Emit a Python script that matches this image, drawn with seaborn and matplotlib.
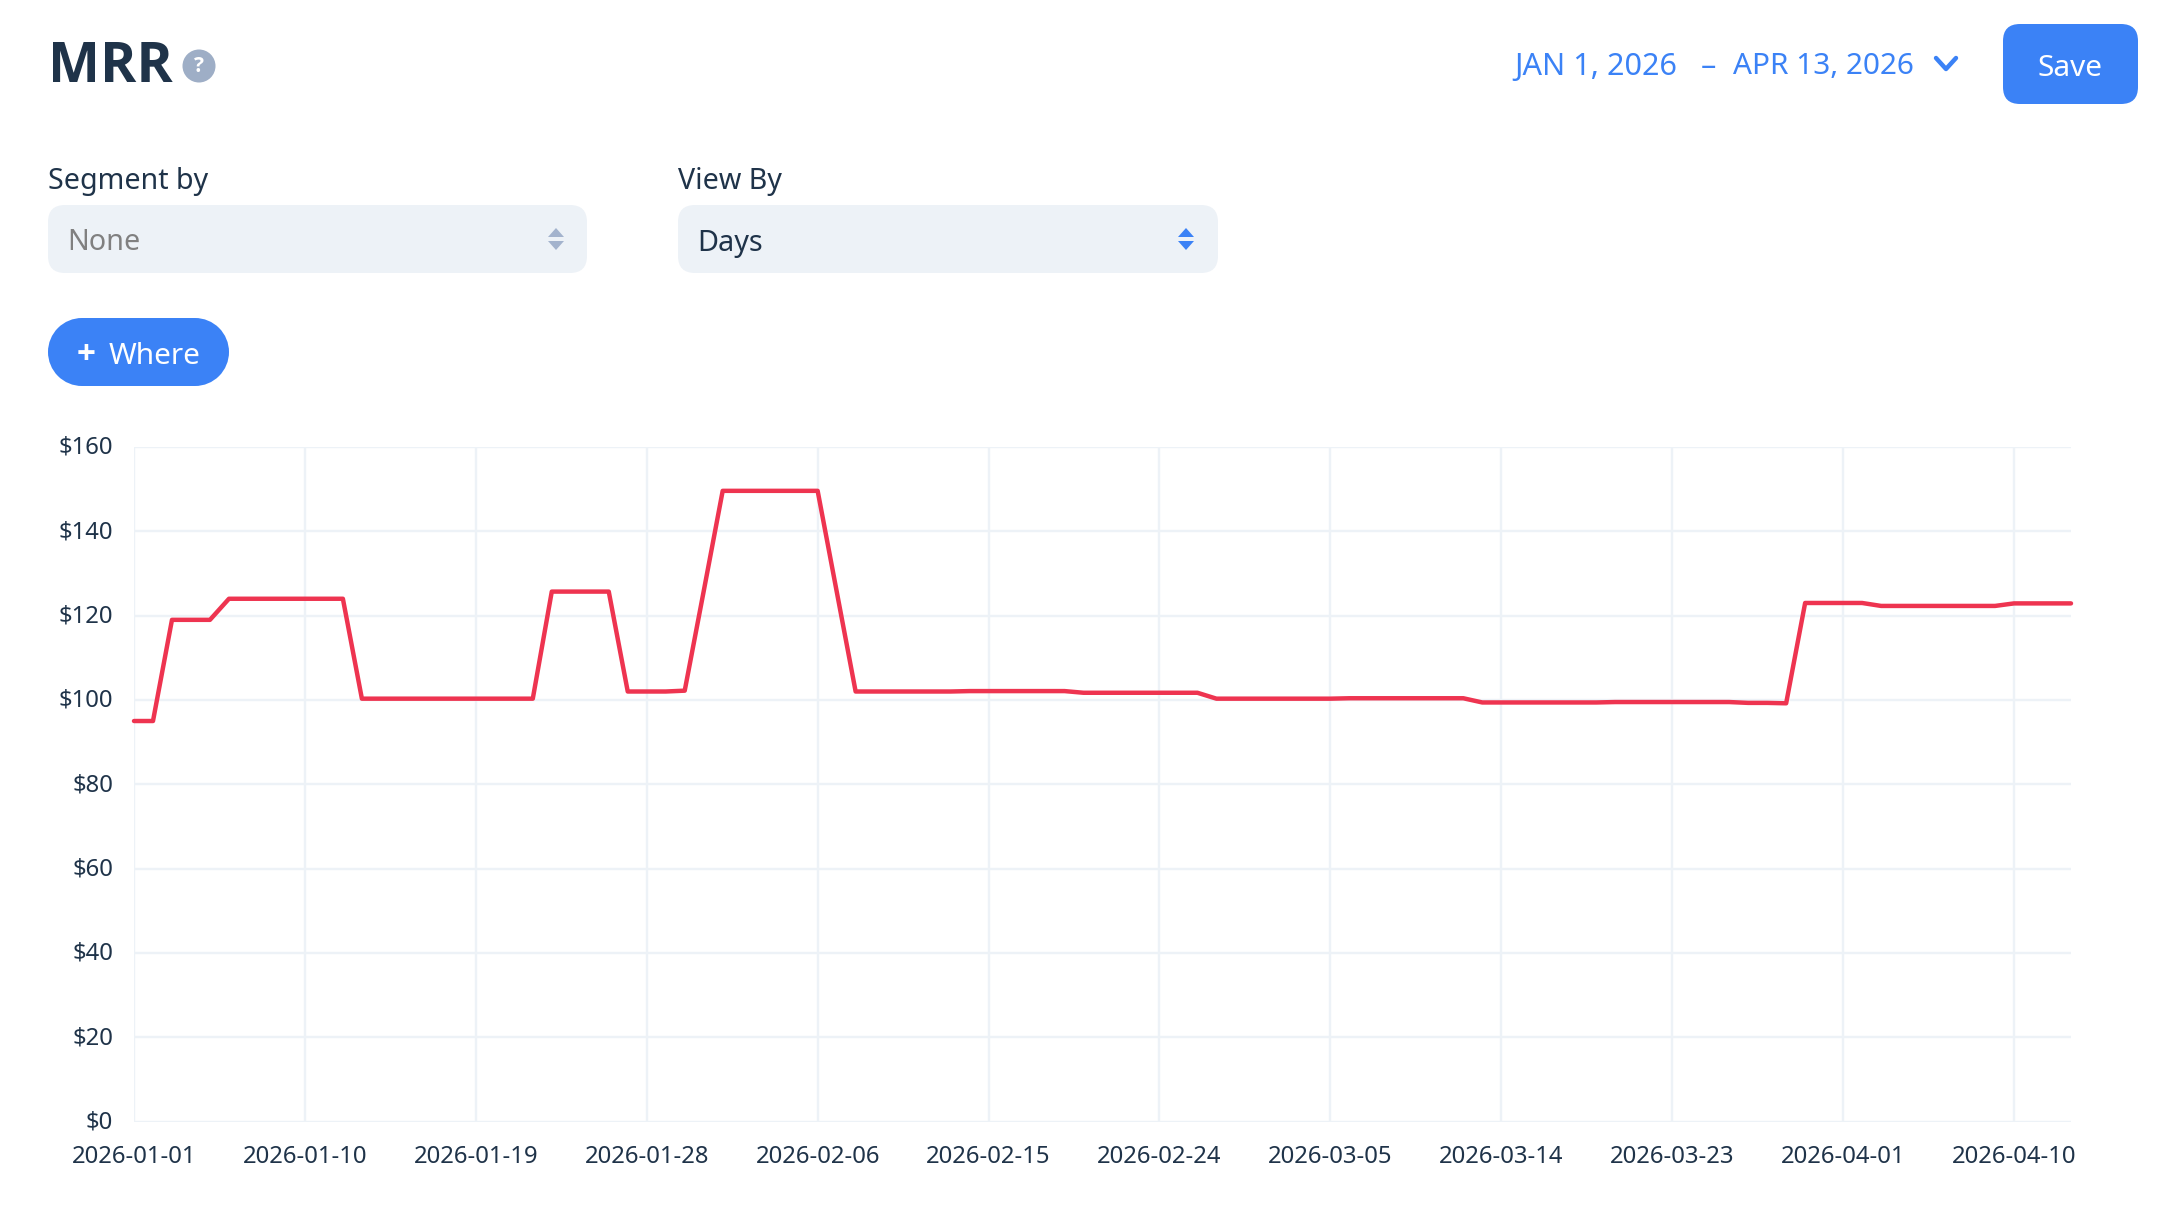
import matplotlib
matplotlib.use("Agg")
import matplotlib.pyplot as plt
from matplotlib.patches import FancyBboxPatch, Polygon, Circle, Rectangle
from matplotlib.lines import Line2D
from matplotlib.transforms import ScaledTranslation
import numpy as np
import pandas as pd
import seaborn as sns

# Daily MRR values, one entry per day from the start date
start_date = "2026-01-01"
mrr_values = [
    95, 95, 119, 119, 119, 124, 124, 124, 124, 124, 124, 124,
    100.3, 100.3, 100.3, 100.3, 100.3, 100.3, 100.3, 100.3, 100.3, 100.3,
    125.7, 125.7, 125.7, 125.7,
    102, 102, 102, 102.2, 125.8,
    149.6, 149.6, 149.6, 149.6, 149.6, 149.6, 125.8,
    102, 102, 102, 102, 102, 102, 102.1, 102.1, 102.1, 102.1, 102.1, 102.1,
    101.7, 101.7, 101.7, 101.7, 101.7, 101.7, 101.7,
    100.3, 100.3, 100.3, 100.3, 100.3, 100.3, 100.3,
    100.4, 100.4, 100.4, 100.4, 100.4, 100.4, 100.4,
    99.4, 99.4, 99.4, 99.4, 99.4, 99.4, 99.4,
    99.5, 99.5, 99.5, 99.5, 99.5, 99.5, 99.5,
    99.3, 99.3, 99.2,
    123, 123, 123, 123,
    122.3, 122.3, 122.3, 122.3, 122.3, 122.3, 122.3,
    122.9, 122.9, 122.9, 122.9,
]
y_ticks = [0, 20, 40, 60, 80, 100, 120, 140, 160]
x_tick_labels = [
    "2026-01-01", "2026-01-10", "2026-01-19", "2026-01-28", "2026-02-06",
    "2026-02-15", "2026-02-24", "2026-03-05", "2026-03-14", "2026-03-23",
    "2026-04-01", "2026-04-10",
]

W, H = 2172, 1218
INK = "#1f3349"
BLUE = "#3b82f6"
FIELD = "#edf2f7"
GRID = "#edf2f7"
LINE = "#ee3450"
BOLD = ["Open Sans", "DejaVu Sans"]

sns.set_theme(style="white")
plt.rcParams["font.family"] = ["Noto Sans", "DejaVu Sans"]

fig = plt.figure(figsize=(W / 100, H / 100), dpi=100, facecolor="white")

# Plot area
left, right, top, bottom = 134, 2071, 447, 1121.5
ax = fig.add_axes([left / W, 1 - bottom / H, (right - left) / W, (bottom - top) / H])
frame = pd.DataFrame({
    "date": pd.date_range(start_date, periods=len(mrr_values), freq="D"),
    "mrr": mrr_values,
})
sns.lineplot(data=frame, x="date", y="mrr", ax=ax, color=LINE, linewidth=3.2,
             errorbar=None, zorder=5, clip_on=False)
ax.set_xlim(frame["date"].iloc[0], frame["date"].iloc[-1])
ax.set_ylim(0, 160)
ax.set_xlabel("")
ax.set_ylabel("")
ax.set_yticks(y_ticks)
ax.set_yticklabels([f"${v}" for v in y_ticks])
ax.set_xticks(pd.to_datetime(x_tick_labels))
ax.set_xticklabels(x_tick_labels)
ax.grid(True, color=GRID, linewidth=1.7)
ax.set_axisbelow(True)
for spine in ax.spines.values():
    spine.set_visible(False)
ax.tick_params(axis="y", length=12, width=1.7, color=GRID, labelcolor=INK, labelsize=17.2, pad=3)
ax.tick_params(axis="x", length=8, width=1.7, color=GRID, labelcolor=INK, labelsize=17.2, pad=9)

# Nudge the value labels up so they sit centred on their gridlines
nudge = ScaledTranslation(0, 1.5 / 72, fig.dpi_scale_trans)
for label in ax.get_yticklabels():
    label.set_transform(label.get_transform() + nudge)

# Page controls drawn in pixel coordinates
ui = fig.add_axes([0, 0, 1, 1], zorder=10)
ui.set_xlim(0, W)
ui.set_ylim(H, 0)
ui.axis("off")
ui.patch.set_alpha(0)


def rounded(x0, y0, x1, y1, radius, color):
    ui.add_patch(FancyBboxPatch((x0, y0), x1 - x0, y1 - y0,
                                boxstyle=f"round,pad=0,rounding_size={radius}",
                                facecolor=color, edgecolor="none"))


def pill(x0, y0, x1, y1, color):
    r = (y1 - y0) / 2
    ui.add_patch(Rectangle((x0 + r, y0), x1 - x0 - 2 * r, y1 - y0, facecolor=color, edgecolor="none"))
    ui.add_patch(Circle((x0 + r, y0 + r), r, facecolor=color, edgecolor="none"))
    ui.add_patch(Circle((x1 - r, y0 + r), r, facecolor=color, edgecolor="none"))


def updown(cx, color):
    ui.add_patch(Polygon([(cx - 8, 237), (cx + 8, 237), (cx, 228)], facecolor=color, edgecolor="none"))
    ui.add_patch(Polygon([(cx - 8, 241), (cx + 8, 241), (cx, 250)], facecolor=color, edgecolor="none"))


ui.text(48, 67, "MRR", fontsize=39.6, fontweight="bold", family=BOLD, color=INK, va="center", ha="left")
ui.add_patch(Circle((199, 66), 16.5, facecolor="#9eaec6", edgecolor="none"))
ui.text(199, 66, "?", fontsize=15, fontweight="bold", family=BOLD, color="white", va="center", ha="center")

ui.text(48, 181, "Segment by", fontsize=20.6, color=INK, va="center", ha="left")
rounded(48, 205, 587, 273, 17, FIELD)
ui.text(67, 242, "None", fontsize=20.7, color="#808080", va="center", ha="left")
updown(556, "#a3b3cd")

ui.text(678, 181, "View By", fontsize=20.6, color=INK, va="center", ha="left")
rounded(678, 205, 1218, 273, 17, FIELD)
ui.text(697, 243, "Days", fontsize=20.7, color=INK, va="center", ha="left")
updown(1186, BLUE)

pill(48, 318, 229, 386, BLUE)
ui.text(86, 355, "+", fontsize=24, fontweight="bold", family=BOLD, color="white", va="center", ha="center")
ui.text(109, 356, "Where", fontsize=21.5, color="white", va="center", ha="left")

ui.text(1514, 67, "JAN 1, 2026", fontsize=22, color=BLUE, va="center", ha="left")
ui.text(1708, 67, "–", fontsize=22, color=BLUE, va="center", ha="center")
ui.text(1733, 67, "APR 13, 2026", fontsize=21.4, color=BLUE, va="center", ha="left")
ui.add_line(Line2D([1936, 1946, 1956], [58, 69, 58], color=BLUE, linewidth=3.2))

rounded(2003, 24, 2138, 104, 17, BLUE)
ui.text(2070, 68, "Save", fontsize=21.5, color="white", va="center", ha="center")

fig.savefig("out.png", dpi=100, facecolor="white")
